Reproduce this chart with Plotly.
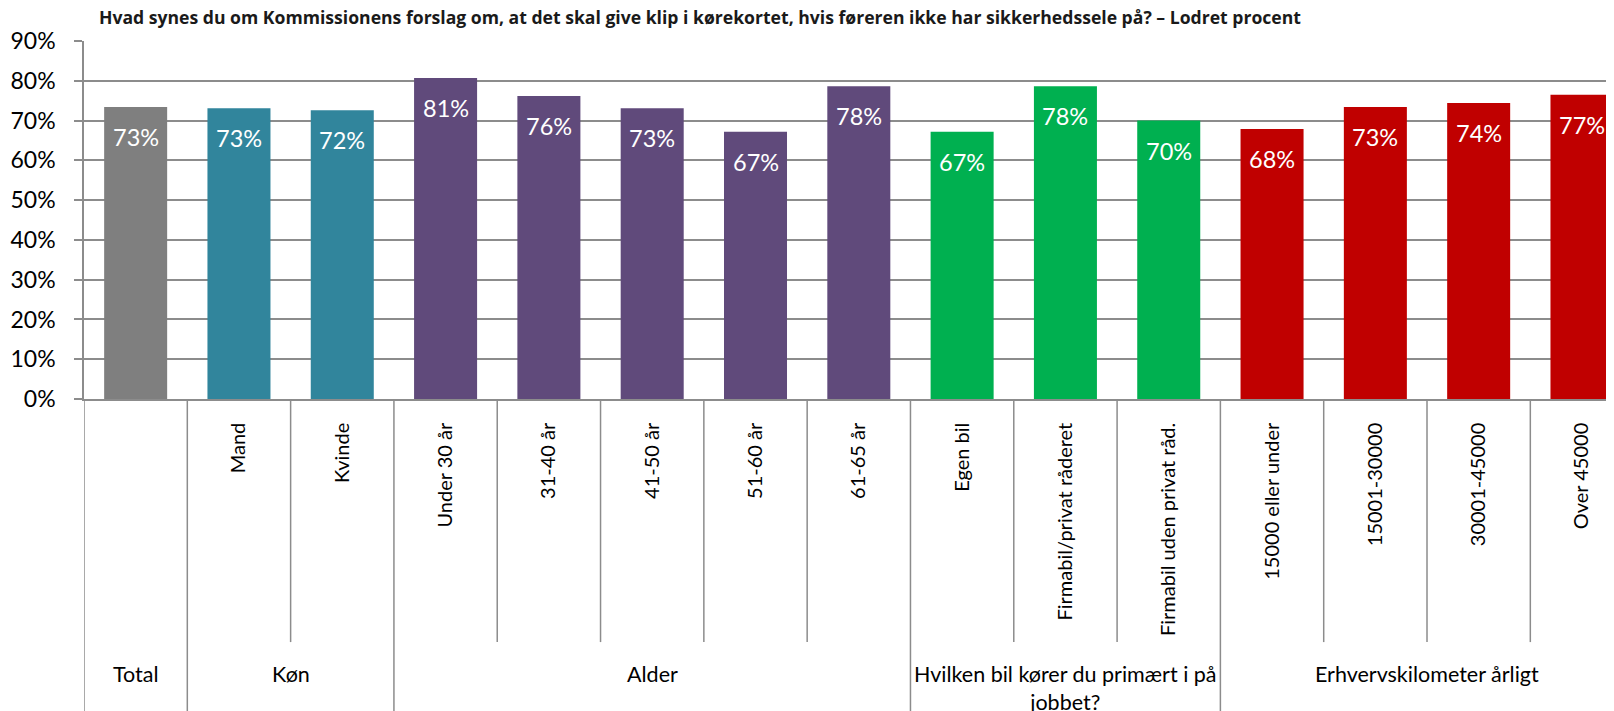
import plotly.graph_objects as go

categories = ["Total", "Mand", "Kvinde", "Under 30 år", "31-40 år", "41-50 år", "51-60 år",
              "61-65 år", "Egen bil", "Firmabil/privat råderet", "Firmabil uden privat råd.",
              "15000 eller under", "15001-30000", "30001-45000", "Over 45000"]
tick_text = [""] + categories[1:]
values = [73.4, 73.1, 72.6, 80.7, 76.2, 73.1, 67.2, 78.6, 67.2, 78.6, 70.0, 67.9, 73.4, 74.4, 76.5]
labels = ["73%", "73%", "72%", "81%", "76%", "73%", "67%", "78%", "67%", "78%", "70%",
          "68%", "73%", "74%", "77%"]
groups = ["Total", "Køn", "Alder", "Hvilken bil kører du primært i på<br>jobbet?",
          "Erhvervskilometer årligt"]
group_sizes = [1, 2, 5, 3, 4]
group_colors = ["#7F7F7F", "#31859C", "#604A7B", "#00B050", "#C00000"]
yticks = [0, 10, 20, 30, 40, 50, 60, 70, 80, 90]
title = ("Hvad synes du om Kommissionens forslag om, at det skal give klip i kørekortet, "
         "hvis føreren ikke har sikkerhedssele på? – Lodret procent")

FONT = "Lato"
GRID = "#8C8C8C"
W, H = 1606, 703  # page body adds an 8px margin

colors = []
for c, n in zip(group_colors, group_sizes):
    colors += [c] * n

x = list(range(len(categories)))
fig = go.Figure(go.Bar(x=x, y=[v / 100 for v in values], marker_color=colors,
                       marker_line_width=0, width=0.61, hoverinfo="skip"))

annotations = []
for i, (v, t) in enumerate(zip(values, labels)):
    annotations.append(dict(x=i, y=v / 100, text=t, showarrow=False, yanchor="middle",
                            yshift=-30, font=dict(family=FONT, size=23.5, color="white")))

shapes = []
start = 0
bounds = [-0.5]
for g, n in zip(groups, group_sizes):
    center = start + (n - 1) / 2
    annotations.append(dict(x=center, y=-0.725, xref="x", yref="paper", text=g,
                            showarrow=False, yanchor="top", align="center",
                            font=dict(family=FONT, size=21.5, color="black")))
    start += n
    bounds.append(start - 0.5)
group_bounds = set(bounds)
for b in bounds:
    shapes.append(dict(type="line", xref="x", yref="paper", x0=b, x1=b, y0=0, y1=-0.9,
                       line=dict(color=GRID, width=1.5)))
for k in range(len(categories)):
    b = k - 0.5
    if b not in group_bounds:
        shapes.append(dict(type="line", xref="x", yref="paper", x0=b, x1=b, y0=0, y1=-0.679,
                           line=dict(color=GRID, width=1.5)))

fig.update_layout(
    width=W, height=H,
    margin=dict(l=76, r=0, t=33, b=312),
    plot_bgcolor="white", paper_bgcolor="white",
    showlegend=False,
    title=dict(text="<b>" + title + "</b>", xref="container", yref="container",
               x=91 / W, xanchor="left", y=1 - 10 / H, yanchor="middle",
               font=dict(family="Open Sans", size=17.6, color="#1a1a1a")),
    annotations=annotations,
    shapes=shapes,
)
fig.update_xaxes(range=[-0.5, 14.31], tickmode="array", tickvals=x, ticktext=tick_text,
                 tickangle=-90, ticks="", ticklabelstandoff=14,
                 tickfont=dict(family=FONT, size=20, color="black"),
                 showline=True, linecolor=GRID, linewidth=1.5, showgrid=False, zeroline=False)
fig.update_yaxes(range=[0, 0.9], tickmode="array", tickvals=[t / 100 for t in yticks],
                 ticktext=[f"{t}%" for t in yticks], ticks="outside", ticklen=8,
                 tickcolor=GRID, tickwidth=1.5, ticklabelstandoff=14,
                 tickfont=dict(family=FONT, size=23, color="black"),
                 showgrid=True, gridcolor=GRID, gridwidth=1.5,
                 showline=True, linecolor=GRID, linewidth=1.5, zeroline=False)

fig.write_html("out.html")
